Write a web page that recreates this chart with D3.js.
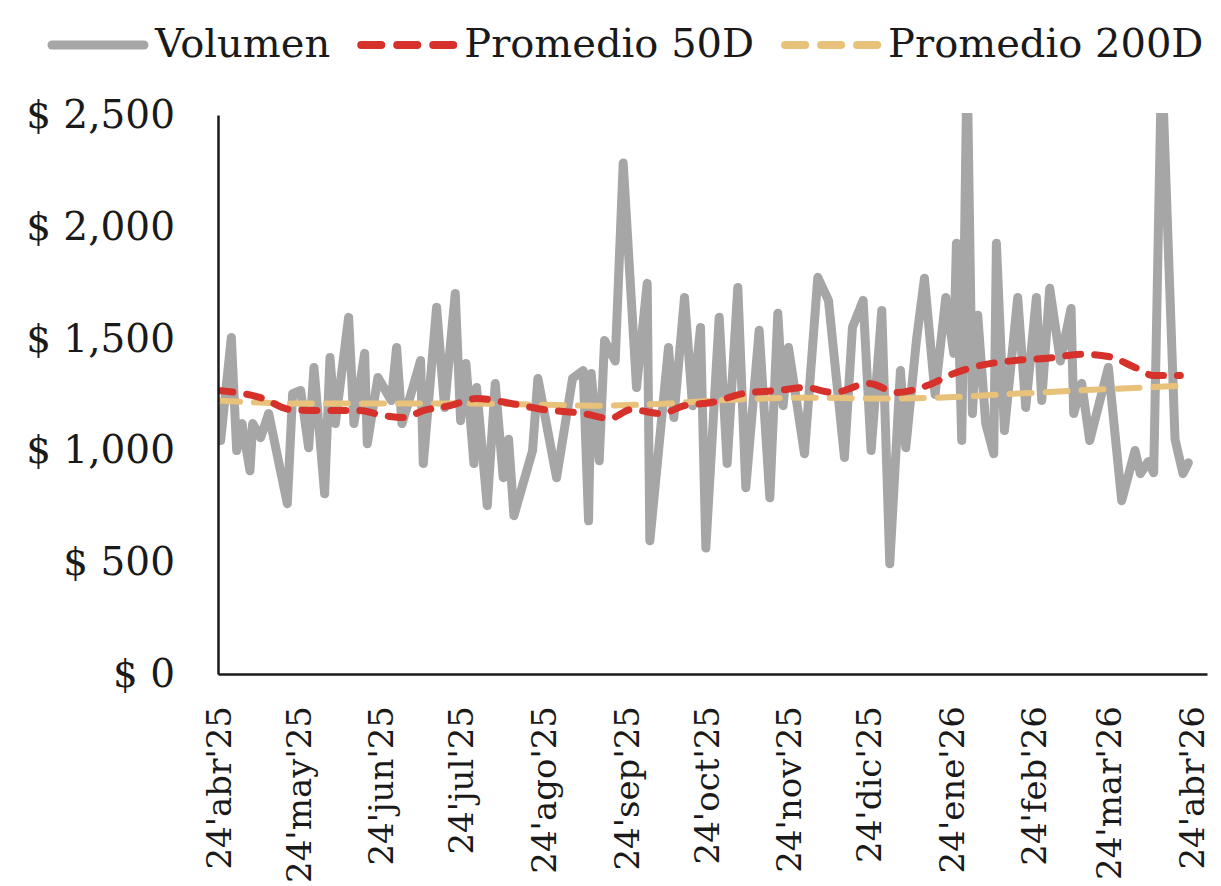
<!DOCTYPE html>
<html>
<head>
<meta charset="utf-8">
<script src="https://cdn.jsdelivr.net/npm/d3@7"></script>
<style>
  html, body { margin: 0; padding: 0; background: #fff; }
  #chart-container { width: 1221px; height: 886px; overflow: hidden; }
  text { font-family: "DejaVu Serif", "Liberation Serif", serif; fill: #1a1a1a; }
</style>
</head>
<body>
<div id="chart-container"></div>
<script>
// volumen diario (puntos de giro)
const volDates = [
  "2025-04-24","2025-04-25","2025-04-29","2025-05-01","2025-05-03","2025-05-06","2025-05-07","2025-05-10",
  "2025-05-13","2025-05-20","2025-05-22","2025-05-25","2025-05-28","2025-05-30","2025-06-03","2025-06-05",
  "2025-06-07","2025-06-12","2025-06-14","2025-06-18","2025-06-19","2025-06-23","2025-06-28","2025-06-30",
  "2025-07-02","2025-07-05","2025-07-09","2025-07-10","2025-07-15","2025-07-18","2025-07-22","2025-07-24",
  "2025-07-26","2025-07-29","2025-07-30","2025-08-03","2025-08-06","2025-08-09","2025-08-11","2025-08-13",
  "2025-08-20","2025-08-22","2025-08-29","2025-09-04","2025-09-08","2025-09-10","2025-09-11","2025-09-14",
  "2025-09-16","2025-09-20","2025-09-23","2025-09-28","2025-10-02","2025-10-03","2025-10-10","2025-10-12",
  "2025-10-16","2025-10-19","2025-10-22","2025-10-24","2025-10-29","2025-11-01","2025-11-05","2025-11-08",
  "2025-11-13","2025-11-17","2025-11-20","2025-11-22","2025-11-24","2025-11-30","2025-12-05","2025-12-09",
  "2025-12-15","2025-12-18","2025-12-22","2025-12-25","2025-12-29","2026-01-01","2026-01-05","2026-01-07",
  "2026-01-11","2026-01-14","2026-01-18","2026-01-22","2026-01-25","2026-01-26","2026-01-28","2026-01-30",
  "2026-02-01","2026-02-03","2026-02-06","2026-02-09","2026-02-10","2026-02-13","2026-02-18","2026-02-21",
  "2026-02-25","2026-02-27","2026-03-02","2026-03-06","2026-03-10","2026-03-11","2026-03-14","2026-03-17",
  "2026-03-24","2026-03-29","2026-04-03","2026-04-05","2026-04-08","2026-04-10","2026-04-13","2026-04-18",
  "2026-04-21","2026-04-23"
];
const volValues = [
  1178,1044,1505,999,1120,909,1120,1057,
  1165,762,1254,1268,1012,1371,806,1416,
  1120,1595,1120,1434,1030,1326,1223,1460,
  1120,1236,1402,941,1640,1192,1702,1133,
  1389,941,1281,753,1299,878,1050,708,
  999,1322,878,1322,1357,685,1344,954,
  1492,1400,2285,1281,1747,596,1460,1147,
  1684,1200,1550,564,1595,941,1729,833,
  1537,788,1613,1200,1460,985,1774,1671,
  968,1550,1671,999,1626,493,1357,1012,
  1492,1770,1250,1684,1434,1926,1044,2750,
  1165,1604,1120,985,1926,1089,1684,1192,
  1684,1223,1725,1400,1635,1165,1300,1044,
  1371,775,1000,896,950,900,2750,1050,
  896,945
];

// promedio movil 50 dias
const ma50Dates = [
  "2025-04-24","2025-05-10","2025-05-21","2025-06-01","2025-06-16","2025-06-25","2025-07-03","2025-07-10",
  "2025-07-20","2025-07-30","2025-08-12","2025-08-24","2025-09-08","2025-09-18","2025-09-26","2025-10-07",
  "2025-10-16","2025-10-26","2025-11-07","2025-11-20","2025-11-30","2025-12-11","2025-12-24","2026-01-04",
  "2026-01-15","2026-01-25","2026-02-04","2026-02-17","2026-03-01","2026-03-14","2026-03-24","2026-04-03",
  "2026-04-10","2026-04-20"
];
const ma50Values = [
  1268,1236,1183,1178,1178,1156,1147,1178,
  1200,1232,1210,1183,1165,1143,1183,1165,
  1200,1214,1254,1268,1281,1259,1299,1259,
  1290,1344,1380,1402,1412,1430,1420,1371,
  1335,1335
];

// promedio movil 200 dias
const ma200Dates = [
  "2025-04-24","2025-05-24","2025-06-23","2025-07-23","2025-08-22","2025-09-11","2025-10-01","2025-10-31",
  "2025-11-30","2025-12-30","2026-01-19","2026-02-18","2026-03-20","2026-04-23"
];
const ma200Values = [
  1223,1210,1210,1210,1205,1200,1205,1225,
  1236,1232,1236,1254,1272,1290
];

// eje x: dia 24 de cada mes
const tickDates = [
  "2025-04-24","2025-05-24","2025-06-24","2025-07-24","2025-08-24","2025-09-24","2025-10-24",
  "2025-11-24","2025-12-24","2026-01-24","2026-02-24","2026-03-24","2026-04-24"
];
const tickLabels = [
  "24'abr'25","24'may'25","24'jun'25","24'jul'25","24'ago'25","24'sep'25","24'oct'25",
  "24'nov'25","24'dic'25","24'ene'26","24'feb'26","24'mar'26","24'abr'26"
];
const yTicks = [0, 500, 1000, 1500, 2000, 2500];

const seriesNames = ["Volumen", "Promedio 50D", "Promedio 200D"];

const parse = d3.timeParse("%Y-%m-%d");
const toPoints = (dates, vals) => dates.map((d, i) => ({date: parse(d), valor: vals[i]}));

const volData = toPoints(volDates, volValues);
const ma50Data = toPoints(ma50Dates, ma50Values);
const ma200Data = toPoints(ma200Dates, ma200Values);

const width = 1221, height = 886;

const svg = d3.select('#chart-container').append('svg')
  .attr('width', width)
  .attr('height', height);

// escalas
const xAxis = d3.scaleTime()
  .domain([parse("2025-04-24"), parse("2026-04-30")])
  .range([218, 1207]);

const yAxis = d3.scaleLinear()
  .domain([0, 2500])
  .range([674, 115]);

// recorte del area del grafico
svg.append('clipPath').attr('id', 'plot-clip')
  .append('rect')
  .attr('x', xAxis.range()[0])
  .attr('y', yAxis(2500) - 2)
  .attr('width', xAxis.range()[1] - xAxis.range()[0])
  .attr('height', yAxis(0) - yAxis(2500) + 2);

const plot = svg.append('g').attr('clip-path', 'url(#plot-clip)');

const line = d3.line()
  .x(d => xAxis(d.date))
  .y(d => yAxis(d.valor));

const smooth = d3.line()
  .curve(d3.curveMonotoneX)
  .x(d => xAxis(d.date))
  .y(d => yAxis(d.valor));

const styles = [
  {stroke: '#a6a6a6', width: 9, dash: null},
  {stroke: '#d6312b', width: 7, dash: '15 14'},
  {stroke: '#e8c27b', width: 6, dash: '22 14'}
];

plot.append('path').datum(volData)
  .attr('d', line)
  .attr('fill', 'none')
  .attr('stroke', styles[0].stroke)
  .attr('stroke-width', styles[0].width)
  .attr('stroke-linejoin', 'round')
  .attr('stroke-linecap', 'round');

plot.append('path').datum(ma200Data)
  .attr('d', smooth)
  .attr('fill', 'none')
  .attr('stroke', styles[2].stroke)
  .attr('stroke-width', styles[2].width)
  .attr('stroke-dasharray', styles[2].dash)
  .attr('stroke-linecap', 'round');

plot.append('path').datum(ma50Data)
  .attr('d', smooth)
  .attr('fill', 'none')
  .attr('stroke', styles[1].stroke)
  .attr('stroke-width', styles[1].width)
  .attr('stroke-dasharray', styles[1].dash)
  .attr('stroke-linecap', 'round');

// eje y
const gy = svg.append('g')
  .attr('transform', `translate(${xAxis.range()[0]},0)`)
  .call(d3.axisLeft(yAxis)
    .tickValues(yTicks)
    .tickSize(0)
    .tickPadding(43)
    .tickFormat(d => '$ ' + d3.format(',')(d)));
gy.select('.domain').attr('stroke', '#1a1a1a').attr('stroke-width', 2.5);
gy.selectAll('text')
  .attr('font-size', 39)
  .attr('font-family', '"DejaVu Serif", serif')
  .attr('fill', '#1a1a1a');

// eje x
const gx = svg.append('g')
  .attr('transform', `translate(0,${yAxis(0)})`)
  .call(d3.axisBottom(xAxis)
    .tickValues(tickDates.map(parse))
    .tickSize(0)
    .tickFormat((d, i) => tickLabels[i]));
gx.select('.domain').attr('stroke', '#1a1a1a').attr('stroke-width', 2.5);
gx.selectAll('text')
  .attr('font-size', 34)
  .attr('font-family', '"DejaVu Serif", serif')
  .attr('fill', '#1a1a1a')
  .attr('text-anchor', 'end')
  .attr('transform', 'translate(0,32) rotate(-90)')
  .attr('x', 0)
  .attr('y', 0)
  .attr('dy', '0.36em');

// leyenda
const legend = svg.append('g').attr('transform', 'translate(48,45)');
let lx = 0;
seriesNames.forEach((name, i) => {
  const st = styles[i];
  legend.append('line')
    .attr('x1', lx + 4).attr('x2', lx + 96)
    .attr('y1', 0).attr('y2', 0)
    .attr('stroke', st.stroke)
    .attr('stroke-width', i === 0 ? 9 : 8)
    .attr('stroke-linecap', 'round')
    .attr('stroke-dasharray', i === 0 ? null : '20 16');
  const t = legend.append('text')
    .attr('x', lx + 107)
    .attr('y', 12)
    .attr('font-size', 40)
    .text(name);
  lx += 107 + t.node().getComputedTextLength() + 27;
});
</script>
</body>
</html>
